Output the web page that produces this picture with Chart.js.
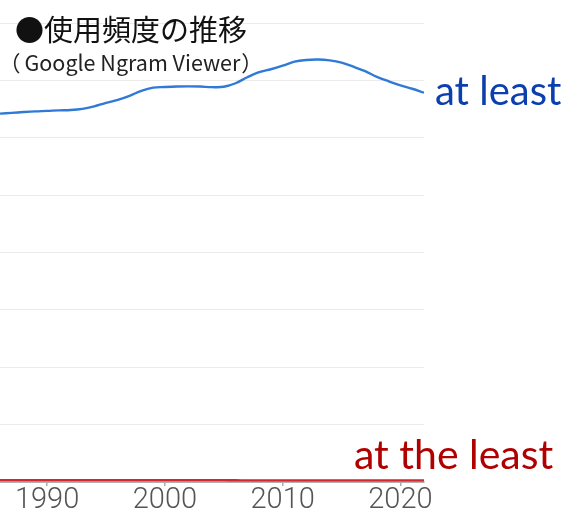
<!DOCTYPE html>
<html lang="ja">
<head>
<meta charset="utf-8">
<script src="https://cdn.jsdelivr.net/npm/chart.js@4"></script>
<style>
  html, body { margin: 0; padding: 0; background: #fff; }
  #wrap { position: relative; width: 580px; height: 522px; overflow: hidden; }
  #c { position: absolute; left: 0; top: 0; }
  .t { position: absolute; white-space: nowrap; line-height: 1; }
  #title { left: 15px; top: 7px; font: 29px "Noto Sans CJK JP"; color: #111; }
  #sub { left: -1px; top: 46px; font: 21.5px "Noto Sans CJK JP"; color: #222; }
  #sub .g { margin-left: 4px; }
  #sub .p2 { margin-left: 1px; }
  #lab1 { left: 435px; top: 66px; font: 400 40px Lato; color: #0b3fae; }
  #lab2 { left: 354px; top: 429px; font: 400 41px Lato; color: #b00000; }
</style>
</head>
<body>
<div id="wrap">
  <canvas id="c" width="580" height="522"></canvas>
  <div class="t" id="title">●使用頻度の推移</div>
  <div class="t" id="sub">（<span class="g">Google Ngram Viewer</span><span class="p2">）</span></div>
  <div class="t" id="lab1">at least</div>
  <div class="t" id="lab2">at the least</div>
</div>
<script>
const years = [1986,1987,1988,1989,1990,1991,1992,1993,1994,1995,1996,1997,1998,1999,2000,2001,2002,2003,2004,2005,2006,2007,2008,2009,2010,2011,2012,2013,2014,2015,2016,2017,2018,2019,2020,2021,2022];
const atLeast = [32.10,32.17,32.24,32.30,32.34,32.39,32.42,32.52,32.74,33.04,33.30,33.65,34.09,34.37,34.42,34.46,34.48,34.46,34.41,34.44,34.75,35.27,35.71,35.97,36.28,36.63,36.78,36.82,36.74,36.54,36.19,35.80,35.31,34.92,34.57,34.27,33.93];
const atTheLeast = [0.16,0.16,0.16,0.16,0.16,0.16,0.16,0.16,0.16,0.16,0.16,0.16,0.16,0.16,0.16,0.16,0.16,0.16,0.16,0.16,0.15,0.14,0.14,0.14,0.14,0.14,0.14,0.14,0.14,0.14,0.14,0.14,0.14,0.14,0.14,0.14,0.14];
const xTicks = [1990,2000,2010,2020];

new Chart(document.getElementById('c'), {
  type: 'line',
  data: {
    datasets: [
      { label: 'at least', data: years.map((y,i)=>({x:y, y:atLeast[i]})), borderColor: '#2f7ad6', borderWidth: 2.4, pointRadius: 0, tension: 0.35, fill: false },
      { label: 'at the least', data: years.map((y,i)=>({x:y, y:atTheLeast[i]})), borderColor: '#d3282c', borderWidth: 2.4, pointRadius: 0, tension: 0.3, fill: false }
    ]
  },
  options: {
    responsive: false,
    animation: false,
    events: [],
    layout: { padding: { left: 0, right: 156, top: 23, bottom: 7 } },
    plugins: { legend: { display: false }, tooltip: { enabled: false } },
    scales: {
      x: {
        type: 'linear', min: 1986, max: 2022,
        afterBuildTicks: (s) => { s.ticks = xTicks.map(v => ({ value: v })); },
        grid: { drawOnChartArea: false, drawTicks: true, tickLength: 4, color: '#aaaaaa', lineWidth: 1.5 },
        border: { display: true, color: '#b0b0b0', width: 2 },
        ticks: { padding: 0, color: '#555555', font: { family: 'Roboto', size: 29, weight: '300', lineHeight: 1 }, callback: v => String(v), maxRotation: 0 }
      },
      y: {
        min: 0, max: 40,
        ticks: { display: false, stepSize: 5 },
        grid: { color: '#ebebeb', lineWidth: 1, drawTicks: false },
        border: { display: false }
      }
    }
  }
});
</script>
</body>
</html>
